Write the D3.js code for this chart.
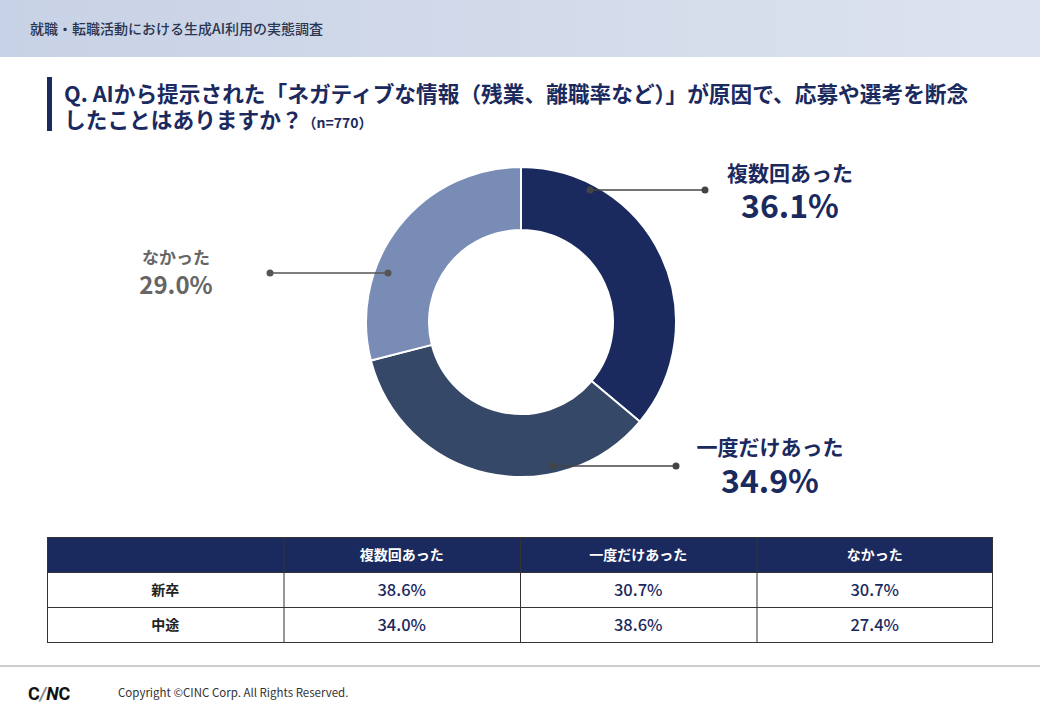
<!DOCTYPE html>
<html><head><meta charset="utf-8">
<script src="https://cdn.jsdelivr.net/npm/d3@7"></script>
<style>body{margin:0;background:#fff}svg{font-family:"Noto Sans CJK JP","Noto Sans",sans-serif}</style>
</head><body><svg id="c" width="1040" height="720"></svg>
<script>
const svg = d3.select('#c');
const navy = '#1b2a5e';

const pie = [
  {label: '複数回あった', value: 36.1, color: '#1b2a5e'},
  {label: '一度だけあった', value: 34.9, color: '#364868'},
  {label: 'なかった', value: 29.0, color: '#788cb5'}
];
const table = [
  {name: '新卒', v: [38.6, 30.7, 30.7]},
  {name: '中途', v: [34.0, 38.6, 27.4]}
];

// header band
const grad = svg.append('defs').append('linearGradient').attr('id', 'hg');
grad.append('stop').attr('offset', '0%').attr('stop-color', '#c8d2e6');
grad.append('stop').attr('offset', '100%').attr('stop-color', '#dde3ee');
svg.append('rect').attr('width', 1040).attr('height', 57).attr('fill', 'url(#hg)');
svg.append('text').attr('x', 30).attr('y', 34).attr('font-size', 14).attr('font-weight', 500)
  .attr('fill', '#2a3550').text('就職・転職活動における生成AI利用の実態調査');

// question
svg.append('rect').attr('x', 47).attr('y', 77).attr('width', 5).attr('height', 54).attr('fill', navy);
svg.append('text').attr('x', 64).attr('y', 102).attr('font-size', 21.7).attr('font-weight', 700)
  .attr('fill', navy).text('Q. AIから提示された「ネガティブな情報（残業、離職率など）」が原因で、応募や選考を断念');
const q2 = svg.append('text').attr('x', 64).attr('y', 128).attr('font-size', 21.7).attr('font-weight', 700).attr('fill', navy);
q2.append('tspan').text('したことはありますか？');
q2.append('tspan').attr('font-size', 14).text('（n=770）');

// donut
const cx = 521, cy = 322;
const arcs = d3.pie().sort(null).value(d => d.value)(pie);
const arc = d3.arc().innerRadius(92).outerRadius(155);
const g = svg.append('g').attr('transform', `translate(${cx},${cy})`);
g.selectAll('path').data(arcs).join('path')
  .attr('d', arc).attr('fill', d => d.data.color)
  .attr('stroke', '#fff').attr('stroke-width', 2);

// leaders and labels (leader start offsets from donut centre)
const lab = [
  {dx: 69, dy: -132, ex: 705, tx: 790, ty: 181, c: '#444', col: navy, f1: 21, f2: 32, gap: 37},
  {dx: 32, dy: 144, ex: 676, tx: 770, ty: 455, c: '#444', col: navy, f1: 21, f2: 32, gap: 38},
  {dx: -133, dy: -49, ex: 270, tx: 176, ty: 264, c: '#555', col: '#666', f1: 17, f2: 24, gap: 30}
];
arcs.forEach((a, i) => {
  const L = lab[i];
  const px = cx + L.dx, py = cy + L.dy;
  svg.append('line').attr('x1', px).attr('y1', py).attr('x2', L.ex).attr('y2', py).attr('stroke', L.c).attr('stroke-width', 1.5);
  svg.append('circle').attr('cx', px).attr('cy', py).attr('r', 3.5).attr('fill', L.c);
  svg.append('circle').attr('cx', L.ex).attr('cy', py).attr('r', 3.5).attr('fill', L.c);
  svg.append('text').attr('x', L.tx).attr('y', L.ty).attr('text-anchor', 'middle')
    .attr('font-size', L.f1).attr('font-weight', 700).attr('fill', L.col).text(a.data.label);
  svg.append('text').attr('x', L.tx).attr('y', L.ty + L.gap).attr('text-anchor', 'middle')
    .attr('font-size', L.f2).attr('font-weight', 700).attr('fill', L.col)
    .text(a.data.value.toFixed(1) + '%');
});

// table
const x = d3.scaleBand().domain(d3.range(4)).range([47, 993]);
const y = d3.scaleBand().domain(d3.range(3)).range([537, 642]);
svg.append('rect').attr('x', 47).attr('y', 537).attr('width', 946).attr('height', y.bandwidth()).attr('fill', navy);
pie.forEach((p, j) => {
  svg.append('text').attr('x', x(j + 1) + x.bandwidth() / 2).attr('y', 537 + y.bandwidth() / 2 + 5)
    .attr('text-anchor', 'middle').attr('font-size', 14).attr('font-weight', 700).attr('fill', '#fff').text(p.label);
});
table.forEach((r, i) => {
  const yy = y(i + 1);
  svg.append('text').attr('x', x(0) + x.bandwidth() / 2).attr('y', yy + y.bandwidth() / 2 + 5)
    .attr('text-anchor', 'middle').attr('font-size', 14).attr('font-weight', 700).attr('fill', '#222').text(r.name);
  r.v.forEach((v, j) => {
    svg.append('text').attr('x', x(j + 1) + x.bandwidth() / 2).attr('y', yy + y.bandwidth() / 2 + 6)
      .attr('text-anchor', 'middle').attr('font-size', 16.5).attr('font-weight', 500).attr('fill', navy).text(v.toFixed(1) + '%');
  });
});
const grid = svg.append('g').attr('stroke', '#333').attr('stroke-width', 1).attr('fill', 'none');
grid.append('rect').attr('x', 47.5).attr('y', 537.5).attr('width', 945).attr('height', 105);
[1, 2].forEach(i => grid.append('line').attr('x1', 47).attr('x2', 993).attr('y1', y(i) + 0.5).attr('y2', y(i) + 0.5));
[1, 2, 3].forEach(j => grid.append('line').attr('x1', x(j) + 0.5).attr('x2', x(j) + 0.5).attr('y1', 537).attr('y2', 642));

// footer
svg.append('line').attr('x1', 0).attr('x2', 1040).attr('y1', 666).attr('y2', 666).attr('stroke', '#ccc').attr('stroke-width', 2);
const logo = svg.append('text').attr('x', 28).attr('y', 700).attr('font-size', 18).attr('font-weight', 700).attr('font-family', 'Roboto, sans-serif').attr('fill', '#111');
logo.append('tspan').text('C');
logo.append('tspan').attr('fill', '#888').attr('font-style', 'italic').text('/');
logo.append('tspan').attr('font-style', 'italic').text('N');
logo.append('tspan').text('C');
svg.append('text').attr('x', 118).attr('y', 697).attr('font-size', 11.5).attr('fill', '#333').text('Copyright ©CINC Corp. All Rights Reserved.');
</script></body></html>
